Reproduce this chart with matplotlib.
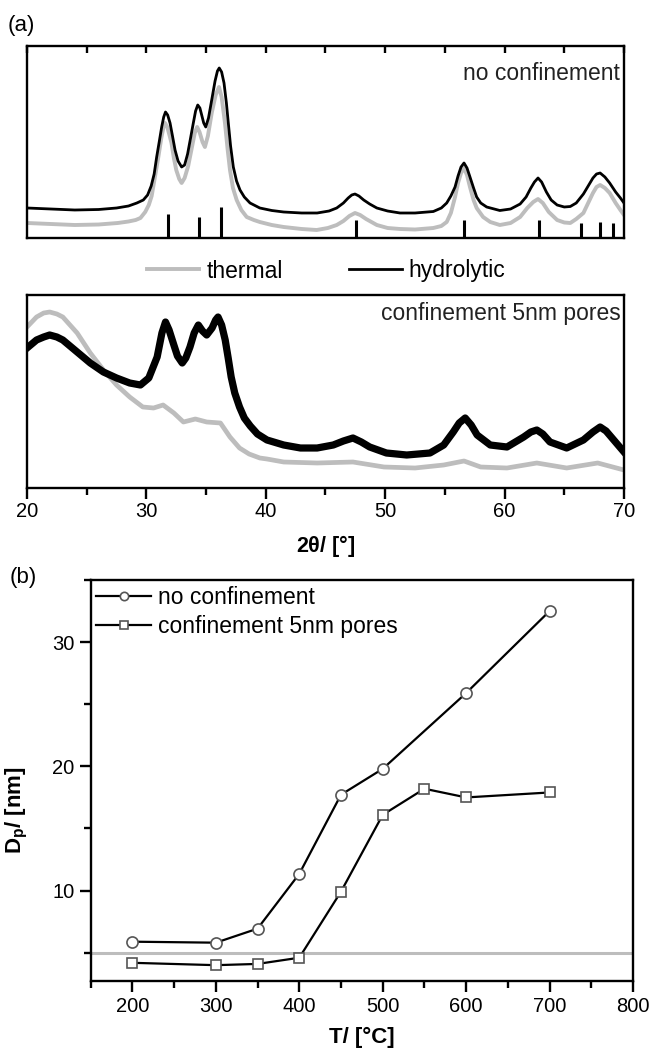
import numpy as np
import matplotlib
matplotlib.use("Agg")
import matplotlib.pyplot as plt
from matplotlib.ticker import MultipleLocator

plt.rcParams['font.family'] = ['Liberation Sans', 'DejaVu Sans']
plt.rcParams['mathtext.fontset'] = 'custom'
plt.rcParams['mathtext.rm'] = 'Liberation Sans'
plt.rcParams['mathtext.bf'] = 'Liberation Sans:bold'
plt.rcParams['mathtext.default'] = 'bf'

# ---- (a) XRD patterns, intensity in arbitrary units ----
# no confinement, hydrolytic
nc_hyd_x = [20, 22, 24, 26, 27.5, 28.5, 29.2, 29.74, 30.1, 30.4, 30.65, 30.86, 31.1,
            31.28, 31.45, 31.6, 31.78, 31.98, 32.2, 32.4, 32.65, 32.95, 33.2, 33.45,
            33.7, 33.93, 34.12, 34.3, 34.48, 34.63, 34.8, 34.97, 35.2, 35.47, 35.75,
            35.95, 36.1, 36.3, 36.5, 36.7, 36.86, 37.05, 37.28, 37.55, 37.84, 38.2,
            38.68, 39.5, 40.5, 41.5, 43, 44.3, 45.3, 45.94, 46.5, 46.9, 47.2, 47.47,
            47.8, 48.2, 48.7, 49.3, 50.2, 51.24, 52.5, 54.03, 54.7, 55.15, 55.5, 55.85,
            56.1, 56.35, 56.6, 56.85, 57.1, 57.4, 57.66, 58.0, 58.5, 59.6, 60.5, 61.3,
            61.8, 62.2, 62.5, 62.8, 63.1, 63.5, 63.9, 64.4, 65.0, 65.5, 66.0, 66.6,
            67.0, 67.4, 67.7, 68.0, 68.4, 68.8, 69.3, 69.7, 70]
nc_hyd_y = [30, 29, 28, 28.5, 30, 32, 35, 38, 43, 52, 64, 81, 98,
            111, 121, 126, 123, 115, 101, 88, 77, 71, 73, 84,
            100, 115, 127, 133, 130, 123, 115, 111, 120, 138, 157,
            167, 170, 166, 155, 135, 115, 92, 71, 57, 48, 41,
            35, 30, 27.5, 26, 25, 25, 27, 30, 35, 40, 43, 44,
            42, 38, 34, 30, 27, 25, 25, 26.5, 30, 35, 42, 51,
            62, 71, 75, 70, 61, 50, 41, 35, 31, 27.5, 29, 34,
            41, 50, 56, 60, 56, 46, 38, 33, 31, 31.5, 35, 44,
            52, 60, 64, 65, 61, 55, 46, 40, 35]
# no confinement, thermal
nc_th_x = [20, 22, 24, 26, 27.6, 28.5, 29.1, 29.5, 29.9, 30.2, 30.44, 30.7, 31.0,
           31.25, 31.45, 31.56, 31.75, 31.95, 32.1, 32.3, 32.5, 32.75, 32.95, 33.2,
           33.5, 33.8, 34.05, 34.25, 34.45, 34.7, 34.9, 35.15, 35.47, 35.8, 36.08,
           36.3, 36.58, 36.8, 37.0, 37.25, 37.56, 37.95, 38.4, 39.0, 39.5, 40.5, 41.5,
           43, 44.26, 45.2, 45.94, 46.5, 47.0, 47.47, 47.9, 48.4, 49.3, 50.2, 51.24,
           52.5, 54.03, 54.7, 55.15, 55.5, 55.85, 56.1, 56.35, 56.6, 56.85, 57.1, 57.4,
           57.66, 58.2, 58.8, 59.6, 60.5, 61.3, 61.9, 62.4, 62.8, 63.2, 63.7, 64.4,
           65.0, 65.5, 66.0, 66.6, 67.0, 67.4, 67.7, 68.0, 68.4, 68.8, 69.3, 69.7, 70]
nc_th_y = [15, 14, 13, 13.5, 15, 16.5, 18, 20, 26, 33, 42, 60, 81,
           100, 112, 115, 111, 102, 95, 80, 68, 59, 55, 60,
           72, 90, 105, 111, 106, 96, 91, 102, 125, 143, 151,
           141, 115, 89, 68, 50, 38, 28, 21, 18, 16, 13, 11,
           9, 8, 10, 13, 17, 22, 25, 23, 19, 13, 10, 9,
           8.5, 10, 12, 16, 25, 41, 55, 65, 70, 63, 51, 38,
           30, 21, 16, 13, 15, 21, 30, 36, 39, 35, 26, 18,
           15.5, 15, 19, 25, 35, 45, 51, 53, 50, 45, 35, 28, 23]
# confinement 5nm pores, hydrolytic
c_hyd_x = [20, 20.8, 21.4, 21.9, 22.5, 23.0, 24.2, 25.3, 26.4, 27.5, 28.6, 29.5, 30.2,
           30.9, 31.3, 31.6, 31.9, 32.3, 32.6, 33.0, 33.3, 33.65, 34.0, 34.35, 34.7,
           35.05, 35.5, 35.8, 36.0, 36.3, 36.6, 36.85, 37.1, 37.4, 37.8, 38.2, 38.7,
           39.3, 40.1, 41.5, 42.9, 44.3, 45.65, 46.5, 47.3, 48.0, 48.7, 50.1, 51.8,
           53.75, 54.9, 55.7, 56.2, 56.7, 57.2, 57.7, 58.8, 60.2, 61.6, 62.2, 62.7,
           63.2, 63.8, 65.2, 66.6, 67.4, 68.0, 68.5, 69.0, 70]
c_hyd_y = [140, 148, 151, 153, 151, 148, 136, 125, 116, 110, 105, 103, 110,
           131, 155, 166, 158, 143, 132, 125, 130, 141, 155, 163, 157,
           153, 160, 168, 171, 163, 148, 130, 111, 95, 81, 70, 62,
           54, 48, 43, 40, 40, 43, 47, 50, 46, 41, 35, 33,
           35, 43, 56, 65, 70, 63, 53, 43, 41, 51, 56, 58,
           54, 46, 40, 48, 56, 61, 57, 50, 36]
# confinement 5nm pores, thermal
c_th_x = [20, 20.8, 21.4, 21.9, 22.5, 23.0, 24.2, 25.3, 26.4, 27.5, 28.6, 29.7, 30.6,
          31.4, 32.3, 33.1, 34.1, 35.05, 36.2, 37.0, 37.8, 38.6, 39.5, 40.1, 41.5,
          44.3, 47.3, 49.9, 52.5, 54.9, 56.6, 58.0, 60.2, 62.7, 65.2, 67.8, 70]
c_th_y = [161, 171, 175, 176, 174, 171, 155, 135, 118, 103, 91, 81, 80,
          83, 75, 66, 69, 66, 65, 51, 40, 34, 30, 29, 26,
          25, 26, 21, 20, 23, 27, 21, 20, 25, 20, 25, 18]
# reference reflections (ZnO)
ref_pos = [31.77, 34.42, 36.25, 47.54, 56.60, 62.86, 66.38, 67.96, 69.10]
ref_h = [24, 21, 31, 18, 18, 18, 15, 16, 15]

# ---- (b) crystallite size ----
temps_nc = [200, 300, 350, 400, 450, 500, 600, 700]
size_nc = [5.89, 5.81, 6.94, 11.35, 17.72, 19.8, 25.9, 32.5]
temps_c = [200, 300, 350, 400, 450, 500, 550, 600, 700]
size_c = [4.19, 4.0, 4.1, 4.6, 9.92, 16.1, 18.2, 17.5, 17.9]
pore_size = 5

GREY = '#bdbdbd'
W, H = 653, 1049
fig = plt.figure(figsize=(W / 100, H / 100), dpi=100)

ax1 = fig.add_axes([27 / W, 1 - 238 / H, 597 / W, 192 / H])
ax2 = fig.add_axes([27 / W, 1 - 488 / H, 597 / W, 193 / H])
ax3 = fig.add_axes([90.7 / W, 1 - 980.7 / H, 542.3 / W, 400.7 / H])

for ax in (ax1, ax2, ax3):
    for sp in ax.spines.values():
        sp.set_linewidth(1.7)

# top XRD
ax1.plot(nc_th_x, nc_th_y, color=GREY, lw=2.8, label='thermal')
ax1.plot(nc_hyd_x, nc_hyd_y, color='black', lw=2.0, label='hydrolytic')
ax1.vlines(ref_pos, 0, ref_h, color='black', lw=2.2)
ax1.set_xlim(20, 70)
ax1.set_ylim(0, 192)
ax1.set_yticks([])
ax1.xaxis.set_major_locator(MultipleLocator(5))
ax1.tick_params(axis='x', top=True, bottom=False, labelbottom=False,
                direction='in', length=5, width=1.7)
ax1.text(0.993, 0.859, 'no confinement', transform=ax1.transAxes,
         ha='right', va='center', fontsize=16.5, color='#222222')

# bottom XRD
ax2.plot(c_th_x, c_th_y, color=GREY, lw=3.4)
ax2.plot(c_hyd_x, c_hyd_y, color='black', lw=5.2)
ax2.set_xlim(20, 70)
ax2.set_ylim(0, 193)
ax2.set_yticks([])
ax2.xaxis.set_major_locator(MultipleLocator(10))
ax2.xaxis.set_minor_locator(MultipleLocator(5))
ax2.tick_params(axis='x', which='major', direction='out', length=8, width=1.7,
                labelsize=14.5, pad=2)
ax2.tick_params(axis='x', which='minor', direction='out', length=5, width=1.7)
ax2.set_xlabel(r'2$\theta$/ [°]', fontsize=15.5, fontweight='bold', labelpad=9)
ax2.text(0.995, 0.902, 'confinement 5nm pores', transform=ax2.transAxes,
         ha='right', va='center', fontsize=16.5, color='#222222')

h, l = ax1.get_legend_handles_labels()
fig.legend(h, l, loc='center', bbox_to_anchor=(326 / W, 1 - 271 / H), ncol=2,
           frameon=False, fontsize=16.5, handlelength=2.3, handletextpad=0.3,
           columnspacing=2.9)

fig.text(8 / W, 1 - 25 / H, '(a)', fontsize=16, va='center', ha='left')
fig.text(10 / W, 1 - 578 / H, '(b)', fontsize=16, va='center', ha='left')

# panel b
ax3.axhline(pore_size, color=GREY, lw=2.2, zorder=1)
ax3.plot(temps_nc, size_nc, color='black', lw=1.6, marker='o', ms=8,
         mfc='white', mec='#555555', mew=1.2, label='no confinement', zorder=3)
ax3.plot(temps_c, size_c, color='black', lw=1.6, marker='s', ms=7,
         mfc='white', mec='#555555', mew=1.2, label='confinement 5nm pores', zorder=3)
ax3.set_xlim(150, 800)
ax3.set_ylim(2.75, 35)
ax3.xaxis.set_major_locator(MultipleLocator(100))
ax3.xaxis.set_minor_locator(MultipleLocator(50))
ax3.yaxis.set_major_locator(MultipleLocator(10))
ax3.yaxis.set_minor_locator(MultipleLocator(5))
ax3.tick_params(which='major', direction='out', length=8, width=1.7, labelsize=14.5)
ax3.tick_params(which='minor', direction='out', length=5, width=1.7)
ax3.set_xlabel('T/ [°C]', fontsize=16, fontweight='bold', labelpad=8)
ax3.set_ylabel(r'D$_p$/ [nm]', fontsize=16, fontweight='bold')
ax3.yaxis.set_label_coords(-0.112, 0.426)
ax3.legend(loc='upper left', bbox_to_anchor=(0.0098, 0.985), frameon=False,
           fontsize=16.5, handlelength=2.4, handletextpad=0.3, labelspacing=0.25,
           borderpad=0, borderaxespad=0, markerscale=0.75)

fig.savefig('out.png', dpi=100)
